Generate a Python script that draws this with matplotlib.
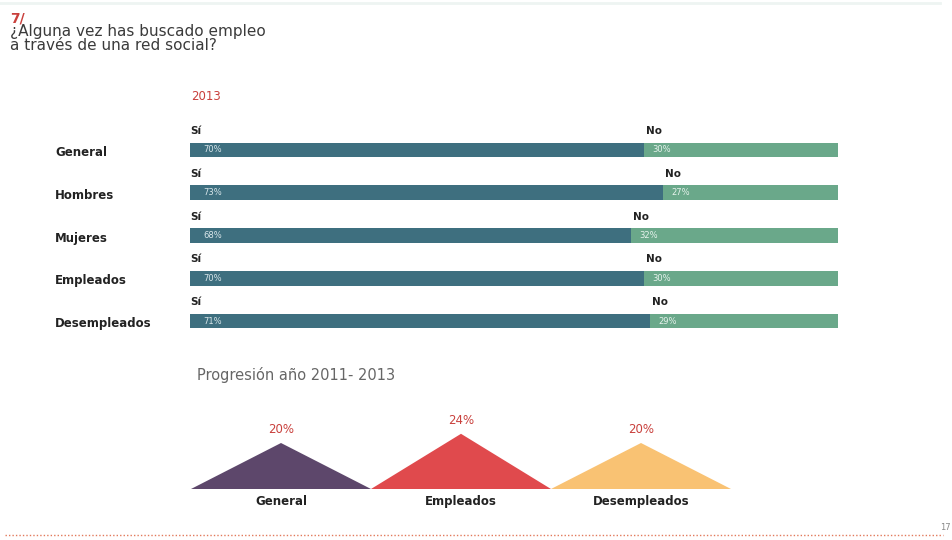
import matplotlib.pyplot as plt

# 2013 survey split
groups = ['General', 'Hombres', 'Mujeres', 'Empleados', 'Desempleados']
si = [70, 73, 68, 70, 71]
no = [30, 27, 32, 30, 29]

# progression 2011-2013
prog_groups = ['General', 'Empleados', 'Desempleados']
prog_values = [20, 24, 20]

W, H = 953, 540
fig = plt.figure(figsize=(W / 100, H / 100), dpi=100)
fig.patch.set_facecolor('white')

def fx(px):
    return px / W

def fy(py):
    return 1 - py / H

red = '#c9403c'
dark = '#3b3b3b'

# header
fig.text(fx(10), fy(18), '7/', color=red, fontsize=10, fontweight='bold', va='center')
fig.text(fx(10), fy(38.5), '¿Alguna vez has buscado empleo\na través de una red social?',
         color=dark, fontsize=11, va='center', linespacing=0.95)
fig.text(fx(191), fy(97), '2013', color=red, fontsize=8.5, va='center')

# bars
row = 42.75
top = 150 - row / 2
ax = fig.add_axes([fx(190), fy(top + 5 * row), 648 / W, 5 * row / H])
ypos = list(range(len(groups)))
ax.barh(ypos, si, height=0.35, color='#3e6f7f')
ax.barh(ypos, no, left=si, height=0.35, color='#6aa88a')
ax.set_xlim(0, 100)
ax.set_ylim(4.5, -0.5)
ax.axis('off')

for i, g in enumerate(groups):
    ax.text(0, i - 0.44, 'Sí', fontsize=7.5, fontweight='bold', color='#222222', va='center')
    ax.text(si[i] + 0.3, i - 0.44, 'No', fontsize=7.5, fontweight='bold', color='#222222', va='center')
    ax.text(2, i, f'{si[i]}%', fontsize=6, color='#d8e6ea', va='center')
    ax.text(si[i] + 1.3, i, f'{no[i]}%', fontsize=6, color='#e6f2ec', va='center')
    ax.text(-0.208, i + 0.06, g, transform=ax.get_yaxis_transform(),
            fontsize=8.5, fontweight='bold', color='#222222', va='center')

# progression triangles
fig.text(fx(197), fy(375), 'Progresión año 2011- 2013', color='#666666', fontsize=10.5, va='center')
ax2 = fig.add_axes([fx(191), fy(489), 540 / W, 2.3 * 30 / H])
tri_colors = ['#5d476b', '#e04a4d', '#f9c273']
for i, (g, v) in enumerate(zip(prog_groups, prog_values)):
    ax2.fill([i, i + 0.5, i + 1], [0, v, 0], color=tri_colors[i], lw=0)
    ax2.annotate(f'{v}%', (i + 0.5, v), xytext=(0, 5), textcoords='offset points',
                 ha='center', va='bottom', color=red, fontsize=8.5)
    ax2.annotate(g, (i + 0.5, 0), xytext=(0, -4), textcoords='offset points',
                 ha='center', va='top', color='#222222', fontsize=8.5, fontweight='bold',
                 annotation_clip=False)
ax2.set_xlim(0, 3)
ax2.set_ylim(0, 30)
ax2.axis('off')

# footer dotted rule and page number
fig.add_artist(plt.Line2D([fx(5), fx(943)], [fy(535), fy(535)], color='#e27a5c',
                          lw=1.0, linestyle=(0, (1, 1.5))))
fig.text(fx(951), fy(528), '17', color='#888888', fontsize=6, va='center', ha='right')
fig.add_artist(plt.Line2D([fx(0), fx(940)], [fy(3), fy(3)], color='#eef4f2', lw=2))

fig.savefig('out.png', dpi=100)
